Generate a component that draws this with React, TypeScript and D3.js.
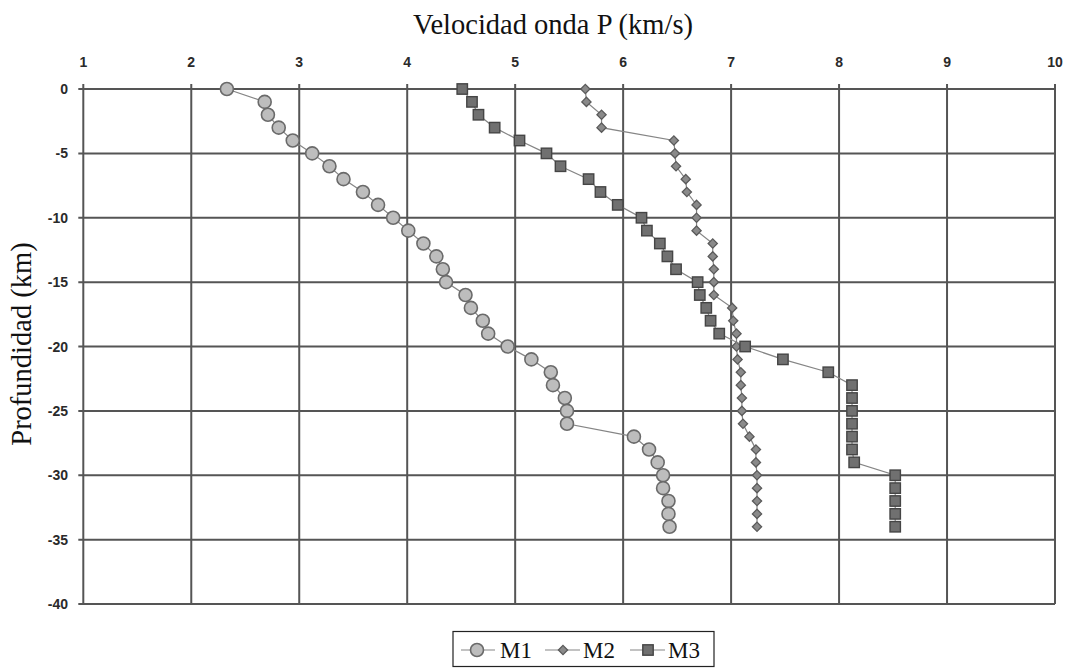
import React from "react";
import * as d3 from "d3";

const depths = [0, -1, -2, -3, -4, -5, -6, -7, -8, -9, -10, -11, -12, -13, -14, -15, -16, -17, -18, -19, -20, -21, -22, -23, -24, -25, -26, -27, -28, -29, -30, -31, -32, -33, -34];

const m1 = [2.33, 2.68, 2.71, 2.81, 2.94, 3.12, 3.28, 3.41, 3.59, 3.73, 3.87, 4.01, 4.15, 4.27, 4.33, 4.36, 4.54, 4.59, 4.70, 4.75, 4.93, 5.15, 5.33, 5.35, 5.46, 5.48, 5.48, 6.10, 6.24, 6.32, 6.37, 6.37, 6.42, 6.42, 6.43];
const m2 = [5.65, 5.66, 5.80, 5.80, 6.47, 6.48, 6.49, 6.58, 6.59, 6.68, 6.68, 6.68, 6.83, 6.83, 6.84, 6.84, 6.84, 7.01, 7.02, 7.05, 7.05, 7.06, 7.09, 7.09, 7.10, 7.10, 7.11, 7.17, 7.23, 7.23, 7.24, 7.24, 7.24, 7.24, 7.24];
const m3 = [4.51, 4.60, 4.66, 4.81, 5.04, 5.29, 5.42, 5.68, 5.79, 5.95, 6.17, 6.22, 6.34, 6.41, 6.49, 6.69, 6.71, 6.77, 6.81, 6.89, 7.13, 7.48, 7.90, 8.12, 8.12, 8.12, 8.12, 8.12, 8.12, 8.14, 8.52, 8.52, 8.52, 8.52, 8.52];

const xTicks = [1, 2, 3, 4, 5, 6, 7, 8, 9, 10];
const yTicks = [0, -5, -10, -15, -20, -25, -30, -35, -40];
const seriesNames = ["M1", "M2", "M3"];

const W = 1076;
const H = 668;
const L = 83.3, R = 1055, T = 89, B = 604;

const x = d3.scaleLinear().domain([1, 10]).range([L, R]);
const y = d3.scaleLinear().domain([0, -40]).range([T, B]);

const gridColor = "#555";
const lineColor = "#858585";

function Marker({ kind, cx, cy }: { kind: number; cx: number; cy: number }) {
  if (kind === 0) {
    return <circle cx={cx} cy={cy} r={6.5} fill="#bdbdbd" stroke="#6a6a6a" strokeWidth={1.6} />;
  }
  if (kind === 1) {
    const s = 4.6;
    return (
      <path
        d={`M${cx},${cy - s}L${cx + s},${cy}L${cx},${cy + s}L${cx - s},${cy}Z`}
        fill="#8a8a8a"
        stroke="#5a5a5a"
        strokeWidth={1.3}
      />
    );
  }
  const s = 5.2;
  return <rect x={cx - s} y={cy - s} width={2 * s} height={2 * s} fill="#707070" stroke="#454545" strokeWidth={1.4} />;
}

export default function App() {
  const data = [m1, m2, m3];
  const line = d3
    .line<[number, number]>()
    .x((d) => x(d[0]))
    .y((d) => y(d[1]));

  const legendItems = [
    { lx1: 461, lx2: 495, mx: 477, tx: 500 },
    { lx1: 545, lx2: 580, mx: 563, tx: 583 },
    { lx1: 630, lx2: 665, mx: 648, tx: 668 },
  ];

  return (
    <svg
      width={W}
      height={H}
      style={{ position: "absolute", left: 0, top: 0, background: "#fff" }}
      xmlns="http://www.w3.org/2000/svg"
    >
      <rect x={0} y={0} width={W} height={H} fill="#fff" />
      {/* title */}
      <text
        x={553}
        y={34}
        textAnchor="middle"
        fontFamily="Liberation Serif, Times New Roman, serif"
        fontSize={28.5}
        fill="#111"
      >
        Velocidad onda P (km/s)
      </text>
      <text
        transform={`translate(31,${344}) rotate(-90)`}
        textAnchor="middle"
        fontFamily="Liberation Serif, Times New Roman, serif"
        fontSize={28.5}
        fill="#111"
      >
        Profundidad (km)
      </text>

      {/* grid */}
      {xTicks.map((t) => (
        <line key={"vx" + t} x1={x(t)} x2={x(t)} y1={T - 5} y2={B} stroke={gridColor} strokeWidth={2} />
      ))}
      {yTicks.map((t) => (
        <line key={"hy" + t} x1={L - 5} x2={R} y1={y(t)} y2={y(t)} stroke={gridColor} strokeWidth={2} />
      ))}

      {/* tick labels */}
      {xTicks.map((t) => (
        <text
          key={"tx" + t}
          x={x(t)}
          y={67}
          textAnchor="middle"
          fontFamily="Liberation Sans, Arial, sans-serif"
          fontWeight="bold"
          fontSize={14}
          fill="#2a2a2a"
        >
          {t}
        </text>
      ))}
      {yTicks.map((t) => (
        <text
          key={"ty" + t}
          x={68}
          y={y(t)}
          dy="0.36em"
          textAnchor="end"
          fontFamily="Liberation Sans, Arial, sans-serif"
          fontWeight="bold"
          fontSize={14}
          fill="#2a2a2a"
        >
          {t}
        </text>
      ))}

      {/* series */}
      {data.map((vals, si) => {
        const pts: [number, number][] = vals.map((v, i) => [v, depths[i]]);
        return (
          <g key={"s" + si}>
            <path d={line(pts) || ""} fill="none" stroke={lineColor} strokeWidth={1.2} />
            {pts.map((p, i) => (
              <Marker key={i} kind={si} cx={x(p[0])} cy={y(p[1])} />
            ))}
          </g>
        );
      })}

      {/* legend */}
      <rect x={453} y={631.5} width={261} height={35} fill="#fff" stroke="#222" strokeWidth={1.2} />
      {seriesNames.map((n, i) => {
        const it = legendItems[i];
        return (
          <g key={"lg" + n}>
            <line x1={it.lx1} x2={it.lx2} y1={650} y2={650} stroke={lineColor} strokeWidth={1.2} />
            <Marker kind={i} cx={it.mx} cy={650} />
            <text
              x={it.tx}
              y={658}
              fontFamily="Liberation Serif, Times New Roman, serif"
              fontSize={23}
              fill="#111"
            >
              {n}
            </text>
          </g>
        );
      })}
    </svg>
  );
}
